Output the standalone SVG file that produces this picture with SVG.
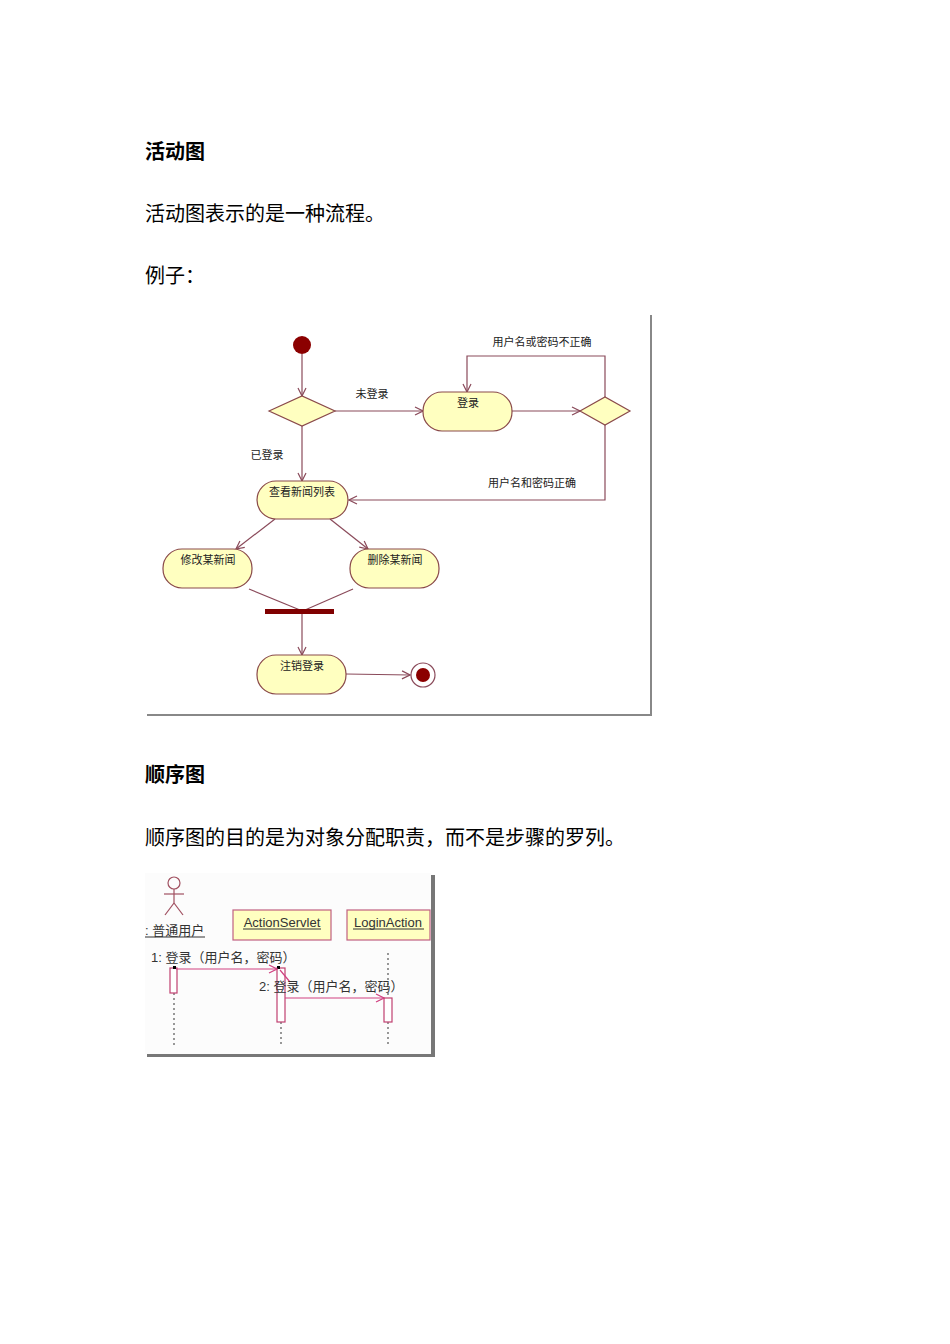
<svg xmlns="http://www.w3.org/2000/svg" width="950" height="1344" viewBox="0 0 950 1344">
<defs>
<style>
.h{font-family:"Noto Sans CJK SC",sans-serif;font-size:20px;font-weight:bold;fill:#000}
.p{font-family:"Noto Sans CJK SC",sans-serif;font-size:20px;fill:#000}
.l{font-family:"Noto Sans CJK SC",sans-serif;font-size:11px;fill:#222;text-anchor:middle}
.n{fill:#ffffc0;stroke:#8a4a4a;stroke-width:1.2}
.c{stroke:#8a4a5a;stroke-width:1.2;fill:none}
.s{font-family:"Liberation Sans","Noto Sans CJK SC",sans-serif;font-size:13px;fill:#333}
.sb{fill:#ffffc0;stroke:#c06080;stroke-width:1.2}
.act{fill:#fff;stroke:#c04070;stroke-width:1.2}
.ll{stroke:#555;stroke-width:1.2;stroke-dasharray:2 3;fill:none}
.m{stroke:#d04080;stroke-width:1.2;fill:none}
</style>
<marker id="a" markerWidth="10" markerHeight="10" refX="9" refY="5" orient="auto" markerUnits="userSpaceOnUse"><path d="M1,1 L9,5 L1,9" fill="none" stroke="#8a4a5a" stroke-width="1.2"/></marker>
<marker id="b" markerWidth="10" markerHeight="10" refX="9" refY="5" orient="auto" markerUnits="userSpaceOnUse"><path d="M1,1 L9,5 L1,9" fill="none" stroke="#d04080" stroke-width="1.2"/></marker>
</defs>
<rect width="950" height="1344" fill="#fff"/>
<text class="h" x="145" y="159">活动图</text>
<text class="p" x="145" y="221">活动图表示的是一种流程。</text>
<text class="p" x="145" y="283">例子：</text>
<text class="h" x="145" y="782">顺序图</text>
<text class="p" x="145" y="845">顺序图的目的是为对象分配职责，而不是步骤的罗列。</text>

<g id="activity-frame">
<rect x="147" y="315" width="505" height="401" fill="#888"/>
<rect x="145" y="313" width="505" height="401" fill="#fff"/>
</g>
<g id="connectors">
<line class="c" x1="302" y1="354" x2="302" y2="396" marker-end="url(#a)"/>
<line class="c" x1="335" y1="411" x2="423" y2="411" marker-end="url(#a)"/>
<line class="c" x1="512" y1="411" x2="580" y2="411" marker-end="url(#a)"/>
<polyline class="c" points="605,397 605,356 467,356 467,392" marker-end="url(#a)"/>
<polyline class="c" points="605,425 605,500 349,500" marker-end="url(#a)"/>
<line class="c" x1="302" y1="426" x2="302" y2="481" marker-end="url(#a)"/>
<line class="c" x1="275" y1="519" x2="236" y2="549" marker-end="url(#a)"/>
<line class="c" x1="330" y1="519" x2="368" y2="549" marker-end="url(#a)"/>
<line class="c" x1="249" y1="589" x2="300" y2="610"/>
<line class="c" x1="353" y1="589" x2="305" y2="610"/>
<line class="c" x1="302" y1="614" x2="302" y2="655" marker-end="url(#a)"/>
<line class="c" x1="346" y1="674" x2="410" y2="675" marker-end="url(#a)"/>
<text class="l" x="372" y="398">未登录</text>
<text class="l" x="267" y="459">已登录</text>
<text class="l" x="542" y="346">用户名或密码不正确</text>
<text class="l" x="532" y="487">用户名和密码正确</text>
</g>
<g id="start"><circle cx="302" cy="345" r="9" fill="#8b0000"/></g>
<g id="d1"><polygon class="n" points="269,411 302,396 335,411 302,426"/></g>
<g id="login"><rect class="n" x="423" y="392" width="89" height="39" rx="19"/><text class="l" x="468" y="407">登录</text></g>
<g id="d2"><polygon class="n" points="580,411 605,397 630,411 605,425"/></g>
<g id="list"><rect class="n" x="257" y="481" width="91" height="38" rx="19"/><text class="l" x="302" y="496">查看新闻列表</text></g>
<g id="edit"><rect class="n" x="163" y="549" width="89" height="39" rx="19"/><text class="l" x="208" y="564">修改某新闻</text></g>
<g id="del"><rect class="n" x="350" y="549" width="89" height="39" rx="19"/><text class="l" x="395" y="564">删除某新闻</text></g>
<g id="join"><rect x="265" y="609" width="69" height="5" fill="#800000"/></g>
<g id="logout"><rect class="n" x="257" y="655" width="89" height="39" rx="19"/><text class="l" x="302" y="670">注销登录</text></g>
<g id="end"><circle cx="423" cy="675" r="12" fill="#fff" stroke="#8a4a5a" stroke-width="1.2"/><circle cx="423" cy="675" r="7" fill="#8b0000"/></g>

<g id="seq-frame">
<rect x="147" y="875" width="288" height="182" fill="#777"/>
<rect x="145" y="873" width="286" height="181" fill="#fcfcfc"/>
</g>
<g id="actor" fill="none" stroke="#a05060" stroke-width="1.2">
<circle cx="174" cy="883" r="6"/>
<line x1="174" y1="889" x2="174" y2="903"/>
<line x1="164" y1="894" x2="184" y2="894"/>
<line x1="174" y1="903" x2="165" y2="915"/>
<line x1="174" y1="903" x2="183" y2="915"/>
</g>
<g id="actor-label"><text class="s" x="145" y="935">: 普通用户</text><line x1="145" y1="937" x2="205" y2="937" stroke="#333"/></g>
<g id="servlet"><rect class="sb" x="233" y="910" width="98" height="30"/><text class="s" x="282" y="927" text-anchor="middle">ActionServlet</text><line x1="243" y1="929" x2="321" y2="929" stroke="#333"/></g>
<g id="loginaction"><rect class="sb" x="347" y="910" width="83" height="30"/><text class="s" x="388" y="927" text-anchor="middle">LoginAction</text><line x1="353" y1="929" x2="424" y2="929" stroke="#333"/></g>
<g id="seq-connectors">
<line class="ll" x1="174" y1="993" x2="174" y2="1045"/>
<line class="ll" x1="281" y1="1022" x2="281" y2="1045"/>
<line class="ll" x1="388" y1="953" x2="388" y2="998"/>
<line class="ll" x1="388" y1="1022" x2="388" y2="1045"/>
<rect class="act" x="170" y="968" width="7" height="25"/>
<rect class="act" x="277" y="968" width="8" height="54"/>
<rect class="act" x="384" y="998" width="8" height="24"/>
<rect x="173" y="966" width="3" height="3" fill="#000"/>
<rect x="277" y="966" width="3" height="3" fill="#000"/>
<line class="m" x1="176" y1="969" x2="277" y2="969" marker-end="url(#b)"/>
<line class="m" x1="280" y1="970" x2="290" y2="982"/>
<line class="m" x1="285" y1="998" x2="384" y2="998" marker-end="url(#b)"/>
<text class="s" x="151" y="962">1: 登录（用户名，密码）</text>
<text class="s" x="259" y="991">2: 登录（用户名，密码）</text>
</g>
</svg>
